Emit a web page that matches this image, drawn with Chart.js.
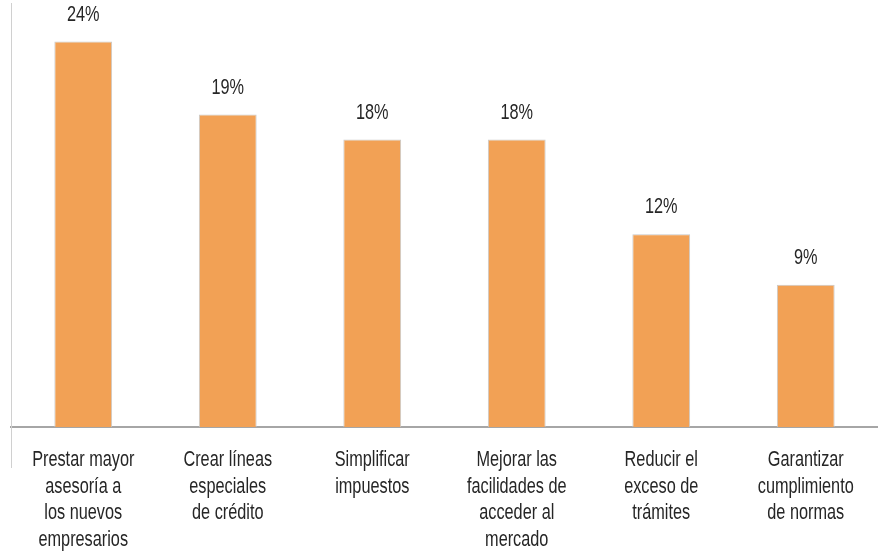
<!DOCTYPE html>
<html>
<head>
<meta charset="utf-8">
<script src="https://cdn.jsdelivr.net/npm/chart.js@4.4.1/dist/chart.umd.min.js"></script>
<style>
  html, body { margin: 0; padding: 0; background: #ffffff; }
  #wrap { width: 878px; height: 560px; position: relative; }
</style>
</head>
<body>
<div id="wrap"><canvas id="c"></canvas></div>
<script>
const categories = [
  ['Prestar mayor', 'asesoría a', 'los nuevos', 'empresarios'],
  ['Crear líneas', 'especiales', 'de crédito'],
  ['Simplificar', 'impuestos'],
  ['Mejorar las', 'facilidades de', 'acceder al', 'mercado'],
  ['Reducir el', 'exceso de', 'trámites'],
  ['Garantizar', 'cumplimiento', 'de normas']
];
const values = [24, 19.45, 17.9, 17.9, 12, 8.85];

const FONT = "'Liberation Sans', Arial, sans-serif";
const FONT_SIZE = 22;
const SQUEEZE = 0.74;
const LINE_H = 26.5;
const TEXT_COLOR = '#262626';

function drawCondensed(ctx, text, x, y) {
  ctx.save();
  ctx.translate(x, y);
  ctx.scale(SQUEEZE, 1);
  ctx.fillText(text, 0, 0);
  ctx.restore();
}

const condensedText = {
  id: 'condensedText',
  afterDraw(chart) {
    const ctx = chart.ctx;
    const meta = chart.getDatasetMeta(0);
    const xs = chart.scales.x;
    ctx.save();
    ctx.font = FONT_SIZE + 'px ' + FONT;
    ctx.fillStyle = TEXT_COLOR;
    ctx.textAlign = 'center';
    ctx.textBaseline = 'middle';
    // value labels above bars
    meta.data.forEach((el, i) => {
      drawCondensed(ctx, Math.round(values[i]) + '%', el.x, el.y - 27);
    });
    // category labels under the axis
    categories.forEach((lines, i) => {
      const x = xs.getPixelForTick(i);
      lines.forEach((line, k) => {
        drawCondensed(ctx, line, x, xs.top + 33 + k * LINE_H);
      });
    });
    ctx.restore();
  }
};

new Chart(document.getElementById('c'), {
  type: 'bar',
  data: {
    labels: categories,
    datasets: [{
      data: values,
      backgroundColor: '#F2A155',
      borderColor: '#C9C9C9',
      borderWidth: 1,
      barPercentage: 0.4,
      categoryPercentage: 1.0
    }]
  },
  options: {
    responsive: true,
    maintainAspectRatio: false,
    animation: false,
    layout: { padding: { left: 11, right: 0, top: 3, bottom: 92 } },
    plugins: { legend: { display: false }, tooltip: { enabled: false } },
    scales: {
      x: {
        grid: {
          offset: true,
          drawOnChartArea: false,
          drawTicks: true,
          tickLength: 41,
          lineWidth: 1,
          color: (c) => c.index === 0 ? '#D0D0D0' : 'rgba(0,0,0,0)'
        },
        border: { display: true, color: '#A6A6A6', width: 2 },
        ticks: { display: false, autoSkip: false }
      },
      y: {
        min: 0,
        max: 26.4,
        grid: { display: false, drawTicks: false },
        border: { display: true, color: '#D0D0D0', width: 1 },
        ticks: { display: false }
      }
    }
  },
  plugins: [condensedText]
});
</script>
</body>
</html>
